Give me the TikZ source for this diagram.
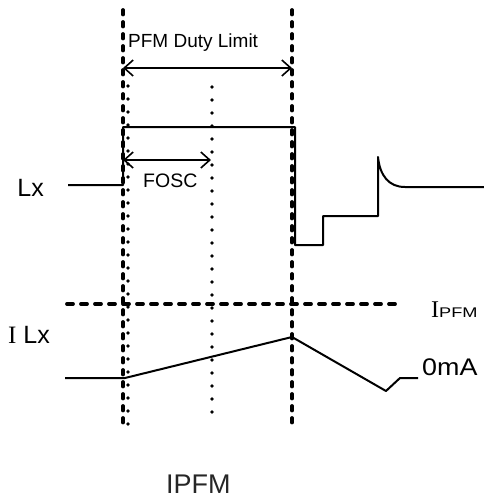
\documentclass[tikz,border=0pt]{standalone}
\usepackage{fontspec}
\setmainfont{Liberation Sans}
\newfontfamily\serifI{Liberation Serif}
\newfontfamily\widesans[FakeStretch=1.3]{Liberation Sans}
\newfontfamily\midsans[FakeStretch=1.12]{Liberation Sans}
\usetikzlibrary{arrows.meta}
\begin{document}
\begin{tikzpicture}[x=1pt,y=-1pt,
  dashv/.style={line width=3.8pt,line cap=round,dash pattern=on 4.5pt off 7.5pt},
  dotv/.style={line width=3.8pt,line cap=round,dash pattern=on 0pt off 13pt},
  dashh/.style={line width=3.8pt,line cap=round,dash pattern=on 6pt off 8pt},
  wave/.style={line width=2pt,line join=round},
  dimarrow/.style={line width=1.6pt,{Straight Barb[length=9pt,width=16pt,line width=1.6pt]}-{Straight Barb[length=9pt,width=16pt,line width=1.6pt]}},
  lbl/.style={inner sep=0pt,anchor=base west}]
\useasboundingbox (0,0) rectangle (484,499);
% guide coordinates
\coordinate (lt) at (123,10);  \coordinate (lb) at (123,425);
\coordinate (rt) at (292,10);  \coordinate (rb) at (292,425);
\coordinate (ldt) at (128,86); \coordinate (ldb) at (128,425);
\coordinate (mdt) at (212,87); \coordinate (mdb) at (212,425);
% vertical guides
\draw[dotv] (ldt) -- (ldb);
\draw[dotv] (mdt) -- (mdb);
\draw[dashv] (lt) -- (lb);
\draw[dashv] (rt) -- (rb);
% PFM duty limit
\coordinate (pa) at (123,68); \coordinate (pb) at (292,68);
\draw[dimarrow] (pa) -- (pb);
\node[lbl,font=\fontsize{19}{19}\selectfont] (pfmdl) at (128,47) {PFM Duty Limit};
% FOSC
\coordinate (fa) at (123,160); \coordinate (fb) at (211,160);
\draw[dimarrow] (fa) -- (fb);
\node[lbl,font=\fontsize{19.5}{19.5}\selectfont] (fosc) at (143,187) {FOSC};
% Lx waveform
\node[inner sep=0pt,anchor=base east,font=\fontsize{25}{25}\selectfont] (lx) at (44,196) {Lx};
\coordinate (x0) at (68,185); \coordinate (x1) at (123,185); \coordinate (x2) at (123,127);
\coordinate (x3) at (295,127); \coordinate (x4) at (295,245); \coordinate (x5) at (323,245);
\coordinate (x6) at (323,216); \coordinate (x7) at (378,216); \coordinate (x8) at (378,157);
\coordinate (x9) at (405,187); \coordinate (x10) at (484,187);
\draw[wave] (x0) -- (x1) -- (x2) -- (x3) -- (x4) -- (x5) -- (x6) -- (x7) -- (x8)
  .. controls (380,176) and (389,187) .. (x9) -- (x10);
% IPFM level
\coordinate (ha) at (67,304); \coordinate (hb) at (397,304);
\draw[dashh] (ha) -- (hb);
\node[lbl] (ipfm) at (431,317) {{\serifI\fontsize{24}{24}\selectfont I}{\widesans\fontsize{14}{14}\selectfont PFM}};
% I Lx waveform
\node[lbl] (ilx) at (8,343) {{\serifI\fontsize{25}{25}\selectfont I}\fontsize{25}{25}\selectfont\ Lx};
\coordinate (c0) at (65,378); \coordinate (c1) at (125,378); \coordinate (c2) at (292,337);
\coordinate (c3) at (386,391); \coordinate (c4) at (400,378); \coordinate (c5) at (418,378);
\draw[wave] (c0) -- (c1) -- (c2) -- (c3) -- (c4) -- (c5);
\node[lbl,font=\midsans\fontsize{24}{24}\selectfont] (zero) at (422,375) {0mA};
% bottom title
\node[lbl,font=\fontsize{27}{27}\selectfont,text=black!85] (title) at (166,493) {IPFM};
\end{tikzpicture}
\end{document}
